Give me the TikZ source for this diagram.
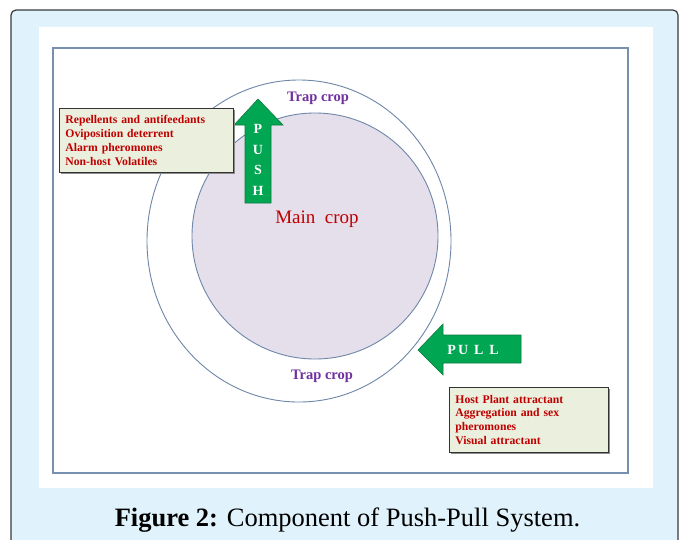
\documentclass[tikz,border=0pt]{standalone}
\usepackage{fontspec}
\setmainfont{Liberation Serif}
\usetikzlibrary{shadows,shapes.geometric}
\definecolor{framebg}{HTML}{E0F2FC}
\definecolor{frameline}{HTML}{3A3A3A}
\definecolor{panelline}{HTML}{7890B0}
\definecolor{ringline}{HTML}{6E86A8}
\definecolor{cropfill}{HTML}{E5DFEC}
\definecolor{arrowgreen}{HTML}{00A651}
\definecolor{arrowedge}{HTML}{0E7A3E}
\definecolor{notefill}{HTML}{EBEFDD}
\definecolor{notered}{HTML}{C00000}
\definecolor{trappurple}{HTML}{7030A0}
\tikzset{
  notebox/.style={draw=black!80, line width=0.8pt, fill=notefill,
    drop shadow={shadow xshift=1.5pt, shadow yshift=-1.5pt, fill=black!45, opacity=1},
    text=notered, font=\fontsize{11.7}{14.2}\selectfont\bfseries,
    align=left, inner xsep=6pt, anchor=north west},
  traplabel/.style={text=trappurple, font=\fontsize{14.5}{16}\selectfont\bfseries},
  bigarrow/.style={fill=arrowgreen, draw=arrowedge, line width=0.6pt},
  arrowletter/.style={text=white, font=\fontsize{14}{16}\selectfont\bfseries}
}
\begin{document}
\begin{tikzpicture}[x=1pt, y=-1pt]
  \useasboundingbox (0,0) rectangle (680,539);
  \begin{scope}
    \clip (0,0) rectangle (680,539);
    % outer figure frame, open at the bottom
    \draw[frameline, line width=1.2pt, fill=framebg, rounded corners=5pt]
      (11,10) rectangle (678,560);
  \end{scope}
  % white drawing area and its border
  \fill[white] (39,27) rectangle (653,488);
  \draw[panelline, line width=1.4pt] (53,48) rectangle (628,473);

  % trap crop ring and main crop
  \node (trap) [ellipse, draw=ringline, line width=0.9pt, fill=white,
    minimum width=304pt, minimum height=322pt, inner sep=0pt] at (299,241) {};
  \node (main) [circle, draw=ringline, line width=0.9pt, fill=cropfill,
    minimum size=246pt, inner sep=0pt] at (315,236) {};
  \node (maintext) [text=notered, font=\fontsize{19}{21}\selectfont] at (317,219) {Main\ \ crop};

  \node (traptop) [traplabel] at (318,98) {Trap crop};
  \node (trapbottom) [traplabel] at (322,376) {Trap crop};

  % push arrow
  \draw[bigarrow] (245,203) -- (245,125) -- (234,125) -- (258,99) -- (283,125)
    -- (271,125) -- (271,203) -- cycle;
  \node (push) [arrowletter, align=center, inner sep=0pt] at (258,160)
    {P\\[4.5pt]U\\[4.5pt]S\\[4.5pt]H};

  % pull arrow
  \draw[bigarrow] (521,335) -- (443,335) -- (443,324) -- (418,350) -- (443,375)
    -- (443,363) -- (521,363) -- cycle;
  \node (pull) [arrowletter] at (473,350) {P\,U\ \,L\ \,L};

  % stimulus lists
  \node (pushlist) [notebox, text width=162pt, inner ysep=5pt, minimum height=64pt] at (59,108)
    {Repellents and antifeedants\\Oviposition deterrent\\Alarm pheromones\\Non-host Volatiles};
  \node (pulllist) [notebox, text width=147pt, inner ysep=5pt, minimum height=65pt,
    font=\fontsize{11.7}{13.8}\selectfont\bfseries] at (449,387)
    {Host Plant attractant\\Aggregation and sex\\pheromones\\Visual attractant};

  % caption
  \node (caption) [anchor=base, inner sep=0pt, font=\fontsize{26.5}{28}\selectfont] at (347.5,526)
    {\textbf{Figure 2:} Component of Push-Pull System.};
\end{tikzpicture}
\end{document}
